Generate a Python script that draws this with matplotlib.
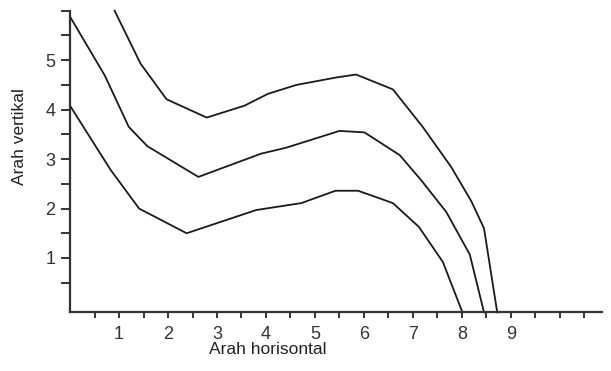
import matplotlib.pyplot as plt
import numpy as np

plt.rcParams["font.family"] = ["Liberation Sans", "DejaVu Sans"]

# ===== data =====
lower_x = [0.00, 0.83, 1.41, 2.38, 3.80, 4.72, 5.42, 5.88, 6.59, 7.12, 7.61, 8.01]
lower_y = [4.08, 2.78, 2.00, 1.50, 1.97, 2.11, 2.36, 2.36, 2.11, 1.63, 0.92, -0.10]

middle_x = [0.00, 0.71, 1.20, 1.58, 2.62, 3.90, 4.41, 5.50, 6.01, 6.73, 7.17, 7.68, 8.16, 8.45]
middle_y = [5.88, 4.69, 3.65, 3.26, 2.64, 3.11, 3.23, 3.57, 3.54, 3.08, 2.57, 1.93, 1.07, -0.10]

upper_x = [0.91, 1.44, 1.97, 2.79, 3.56, 4.04, 4.62, 5.43, 5.84, 6.59, 7.20, 7.78, 8.19, 8.45, 8.72]
upper_y = [6.00, 4.93, 4.21, 3.84, 4.08, 4.32, 4.50, 4.65, 4.71, 4.41, 3.65, 2.84, 2.15, 1.60, -0.10]

x_major = [1, 2, 3, 4, 5, 6, 7, 8, 9]
y_major = [1, 2, 3, 4, 5]

# ===== figure =====
fig = plt.figure(figsize=(6.11, 3.71), dpi=100)
ax = fig.add_axes([0.1146, 0.158, 0.870, 0.813])

for xs, ys in [(lower_x, lower_y), (middle_x, middle_y), (upper_x, upper_y)]:
    ax.plot(xs, ys, color="#1a1a1a", linewidth=1.3, clip_on=False)

ax.set_xlim(0, 10.85)
ax.set_ylim(-0.1, 6.0)

ax.spines["top"].set_visible(False)
ax.spines["right"].set_visible(False)
for s in ["left", "bottom"]:
    ax.spines[s].set_color("#333333")
    ax.spines[s].set_linewidth(1.6)

ax.set_xticks(x_major)
ax.set_xticklabels([str(v) for v in x_major])
ax.set_xticks(np.arange(0.5, 10.6, 0.5), minor=True)
ax.set_yticks(y_major)
ax.set_yticklabels([str(v) for v in y_major])
ax.set_yticks(np.arange(0.5, 6.01, 0.5), minor=True)

ax.tick_params(axis="x", which="both", direction="out", length=4.5, width=1.4,
               color="#333333", labelsize=13, labelcolor="#333333", pad=5)
ax.tick_params(axis="y", which="both", direction="out", length=6.5, width=1.4,
               color="#333333", labelsize=13, labelcolor="#333333", pad=4)

fig.text(268 / 611, 1 - 350 / 371, "Arah horisontal", ha="center", va="center",
         fontsize=12.5, color="#222222")
fig.text(20 / 611, 1 - 137 / 371, "Arah vertikal", ha="center", va="center",
         rotation=90, fontsize=12.5, color="#222222")

fig.savefig("out.png", dpi=100)
plt.close(fig)
